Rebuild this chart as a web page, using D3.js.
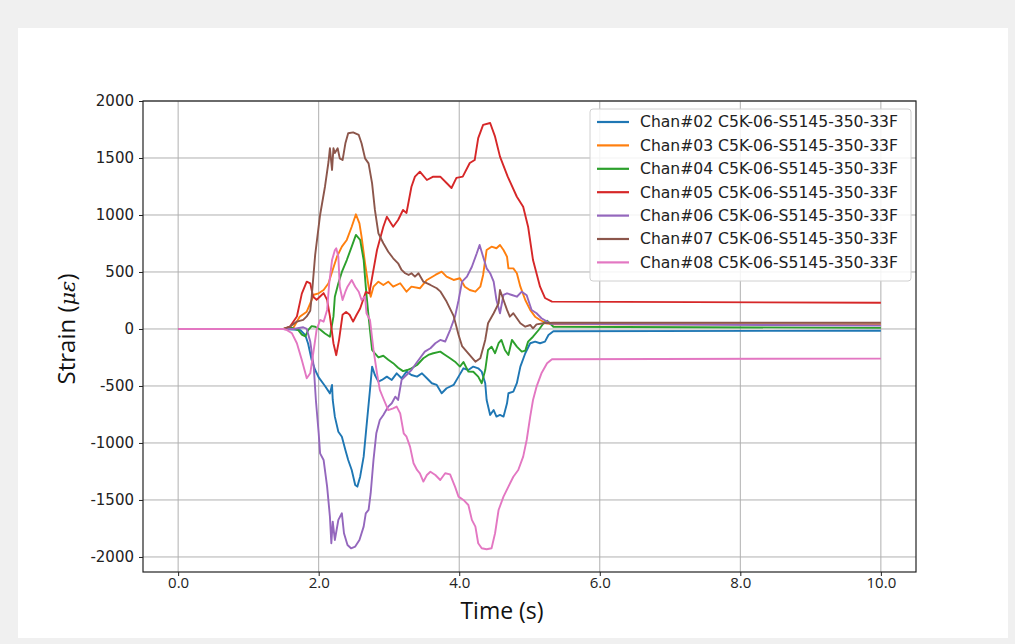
<!DOCTYPE html>
<html>
<head>
<meta charset="utf-8">
<script src="https://cdn.jsdelivr.net/npm/d3@7"></script>
<style>
  body { margin: 0; background: #f0f0f0; }
  .tick text { fill: #222; }
</style>
</head>
<body>
<script>
// strain readings per channel, [time (s), strain (micro-strain)]
var chan02 = [[0,0],[1.5,0],[1.64,-5],[1.74,-10],[1.81,-55],[1.85,-130],[1.90,-272],[1.95,-360],[2.00,-425],[2.09,-500],[2.16,-565],[2.19,-491],[2.20,-623],[2.23,-769],[2.28,-901],[2.33,-945],[2.38,-1061],[2.42,-1149],[2.47,-1237],[2.52,-1368],[2.55,-1383],[2.59,-1296],[2.64,-1120],[2.68,-857],[2.73,-535],[2.76,-330],[2.80,-404],[2.85,-462],[2.90,-447],[2.97,-418],[3.04,-447],[3.11,-389],[3.18,-432],[3.25,-374],[3.32,-404],[3.40,-418],[3.47,-389],[3.54,-432],[3.61,-476],[3.68,-491],[3.75,-564],[3.82,-520],[3.92,-491],[3.99,-418],[4.06,-345],[4.13,-360],[4.20,-330],[4.27,-345],[4.32,-374],[4.37,-476],[4.39,-623],[4.44,-754],[4.49,-711],[4.53,-769],[4.58,-754],[4.63,-769],[4.68,-652],[4.70,-564],[4.77,-550],[4.82,-476],[4.87,-330],[4.94,-213],[5.01,-125],[5.08,-111],[5.15,-125],[5.22,-111],[5.27,-53],[5.34,-20],[10,-15]];
var chan03 = [[0,0],[1.5,0],[1.64,10],[1.73,108],[1.83,152],[1.88,225],[1.93,300],[2.00,313],[2.07,342],[2.14,401],[2.19,500],[2.26,634],[2.33,722],[2.40,781],[2.47,897],[2.53,1006],[2.58,927],[2.61,810],[2.66,576],[2.71,371],[2.74,283],[2.78,371],[2.85,415],[2.92,386],[2.99,415],[3.06,371],[3.16,401],[3.25,327],[3.32,371],[3.44,357],[3.54,430],[3.66,474],[3.75,503],[3.82,459],[3.92,430],[4.01,445],[4.08,371],[4.15,342],[4.23,327],[4.30,371],[4.34,474],[4.39,693],[4.46,722],[4.53,708],[4.58,737],[4.63,693],[4.68,634],[4.70,532],[4.77,532],[4.82,489],[4.87,371],[4.94,254],[5.01,167],[5.08,108],[5.15,79],[5.24,50],[5.33,40],[10,40]];
var chan04 = [[0,0],[1.5,0],[1.59,15],[1.64,5],[1.71,-10],[1.76,-50],[1.81,-65],[1.85,-10],[1.90,25],[1.95,20],[2.02,-5],[2.09,-40],[2.16,-68],[2.21,108],[2.23,283],[2.28,401],[2.33,500],[2.40,605],[2.47,722],[2.53,825],[2.59,781],[2.64,605],[2.67,371],[2.71,108],[2.76,-184],[2.80,-215],[2.85,-250],[2.92,-235],[2.99,-270],[3.06,-300],[3.13,-340],[3.20,-370],[3.26,-360],[3.32,-345],[3.40,-316],[3.49,-257],[3.56,-228],[3.63,-213],[3.73,-199],[3.80,-228],[3.87,-257],[3.94,-287],[4.01,-330],[4.06,-290],[4.13,-374],[4.20,-375],[4.27,-418],[4.32,-476],[4.37,-360],[4.41,-184],[4.46,-155],[4.51,-213],[4.56,-125],[4.60,-96],[4.65,-184],[4.70,-228],[4.75,-96],[4.82,-155],[4.89,-199],[4.94,-190],[4.98,-111],[5.05,-68],[5.13,-9],[5.20,50],[5.25,73],[5.29,50],[5.34,20],[10,10]];
var chan05 = [[0,0],[1.5,0],[1.59,20],[1.69,110],[1.76,310],[1.83,415],[1.88,400],[1.92,285],[1.97,255],[2.02,285],[2.07,315],[2.12,255],[2.16,110],[2.21,-125],[2.25,-230],[2.29,-95],[2.34,125],[2.39,150],[2.44,125],[2.49,65],[2.54,125],[2.59,180],[2.64,270],[2.67,325],[2.72,313],[2.83,693],[2.92,897],[2.97,985],[3.06,897],[3.13,956],[3.20,1044],[3.25,1018],[3.32,1248],[3.37,1336],[3.44,1380],[3.54,1307],[3.63,1336],[3.73,1336],[3.82,1281],[3.89,1237],[3.96,1325],[4.05,1336],[4.15,1456],[4.22,1482],[4.27,1675],[4.34,1790],[4.44,1807],[4.51,1687],[4.58,1512],[4.69,1336],[4.82,1160],[4.91,1073],[4.98,897],[5.05,605],[5.15,371],[5.22,272],[5.32,240],[10,230]];
var chan06 = [[0,0],[1.5,0],[1.64,0],[1.78,15],[1.83,0],[1.88,-110],[1.93,-330],[1.96,-623],[2.00,-915],[2.02,-1091],[2.07,-1149],[2.12,-1383],[2.16,-1647],[2.18,-1880],[2.20,-1690],[2.23,-1851],[2.28,-1675],[2.33,-1617],[2.36,-1792],[2.41,-1895],[2.46,-1924],[2.52,-1909],[2.58,-1851],[2.64,-1734],[2.67,-1617],[2.71,-1588],[2.74,-1441],[2.78,-1149],[2.82,-915],[2.87,-798],[2.92,-754],[2.99,-681],[3.04,-652],[3.09,-594],[3.13,-623],[3.18,-447],[3.25,-404],[3.32,-360],[3.37,-316],[3.44,-257],[3.51,-199],[3.59,-169],[3.66,-125],[3.73,-96],[3.80,-110],[3.87,-9],[3.94,108],[3.99,250],[4.04,415],[4.11,459],[4.18,546],[4.25,664],[4.29,737],[4.34,634],[4.39,532],[4.44,489],[4.49,415],[4.53,254],[4.58,138],[4.63,300],[4.68,313],[4.75,298],[4.82,283],[4.89,327],[4.96,296],[5.03,167],[5.10,138],[5.17,94],[5.25,64],[5.30,45],[10,30]];
var chan07 = [[0,0],[1.5,0],[1.59,20],[1.69,65],[1.78,80],[1.83,110],[1.88,160],[1.90,280],[1.95,650],[2.02,1000],[2.09,1250],[2.14,1467],[2.16,1585],[2.19,1395],[2.21,1585],[2.23,1544],[2.27,1585],[2.30,1497],[2.34,1482],[2.38,1629],[2.42,1717],[2.49,1725],[2.57,1702],[2.61,1629],[2.66,1497],[2.71,1453],[2.76,1278],[2.80,1044],[2.85,839],[2.92,752],[2.99,678],[3.06,620],[3.13,576],[3.18,518],[3.23,489],[3.28,474],[3.32,489],[3.37,459],[3.42,489],[3.49,415],[3.59,386],[3.68,357],[3.73,330],[3.82,240],[3.92,115],[3.99,-50],[4.04,-150],[4.11,-200],[4.23,-287],[4.30,-257],[4.37,-96],[4.41,50],[4.49,138],[4.56,225],[4.58,342],[4.63,254],[4.68,167],[4.72,108],[4.77,138],[4.82,94],[4.87,50],[4.94,20],[5.01,35],[5.05,6],[5.10,40],[5.20,50],[5.34,55],[10,55]];
var chan08 = [[0,0],[1.5,0],[1.55,-10],[1.62,-38],[1.69,-125],[1.76,-272],[1.83,-432],[1.88,-389],[1.93,-184],[1.97,-9],[2.02,79],[2.07,64],[2.12,167],[2.15,401],[2.19,605],[2.23,690],[2.25,708],[2.28,634],[2.30,371],[2.34,254],[2.38,327],[2.41,371],[2.47,430],[2.52,371],[2.57,327],[2.61,254],[2.66,283],[2.68,138],[2.73,79],[2.78,-184],[2.83,-389],[2.87,-535],[2.92,-610],[2.99,-711],[3.06,-696],[3.11,-681],[3.16,-740],[3.21,-915],[3.25,-945],[3.30,-1032],[3.35,-1178],[3.40,-1237],[3.44,-1266],[3.49,-1339],[3.54,-1281],[3.59,-1252],[3.66,-1281],[3.73,-1325],[3.80,-1266],[3.87,-1275],[3.94,-1383],[3.99,-1471],[4.06,-1500],[4.13,-1544],[4.18,-1675],[4.23,-1734],[4.27,-1880],[4.32,-1924],[4.39,-1932],[4.46,-1924],[4.51,-1792],[4.56,-1588],[4.63,-1471],[4.70,-1383],[4.77,-1296],[4.84,-1237],[4.91,-1120],[4.96,-974],[5.01,-769],[5.05,-623],[5.10,-506],[5.17,-389],[5.25,-301],[5.32,-265],[10,-260]];

var channelNames = ["Chan#02 C5K-06-S5145-350-33F", "Chan#03 C5K-06-S5145-350-33F", "Chan#04 C5K-06-S5145-350-33F",
  "Chan#05 C5K-06-S5145-350-33F", "Chan#06 C5K-06-S5145-350-33F", "Chan#07 C5K-06-S5145-350-33F", "Chan#08 C5K-06-S5145-350-33F"];
var channelColors = ["#1f77b4", "#ff7f0e", "#2ca02c", "#d62728", "#9467bd", "#8c564b", "#e377c2"];
var channels = [chan02, chan03, chan04, chan05, chan06, chan07, chan08];

var xTicks = [0, 2, 4, 6, 8, 10];
var yTicks = [-2000, -1500, -1000, -500, 0, 500, 1000, 1500, 2000];

var svgWidth = 1015;
var svgHeight = 644;

var margin = { top: 101, right: 99, bottom: 72, left: 143 };
var width = svgWidth - margin.left - margin.right;
var height = svgHeight - margin.top - margin.bottom;

var svg = d3.select("body")
  .append("svg")
  .attr("width", svgWidth)
  .attr("height", svgHeight)
  .style("display", "block");

// grey page with white card behind the figure
svg.append("rect")
  .attr("width", svgWidth).attr("height", svgHeight)
  .attr("fill", "#f0f0f0");
svg.append("rect")
  .attr("x", 18).attr("y", 28)
  .attr("width", 990).attr("height", 610)
  .attr("fill", "#ffffff");

var chartGroup = svg.append("g")
  .attr("transform", `translate(${margin.left}, ${margin.top})`);

// scales
var xScale = d3.scaleLinear()
  .domain([-0.5, 10.5])
  .range([0, width]);

var yScale = d3.scaleLinear()
  .domain([-2132, 2000])
  .range([height, 0]);

// grid
chartGroup.append("g")
  .selectAll("line")
  .data(xTicks)
  .enter()
  .append("line")
  .attr("x1", d => xScale(d)).attr("x2", d => xScale(d))
  .attr("y1", 0).attr("y2", height)
  .attr("stroke", "#b0b0b0").attr("stroke-width", 1);

chartGroup.append("g")
  .selectAll("line")
  .data(yTicks)
  .enter()
  .append("line")
  .attr("x1", 0).attr("x2", width)
  .attr("y1", d => yScale(d)).attr("y2", d => yScale(d))
  .attr("stroke", "#b0b0b0").attr("stroke-width", 1);

// axes
var bottomAxis = d3.axisBottom(xScale)
  .tickValues(xTicks)
  .tickFormat(d3.format(".1f"))
  .tickSize(4)
  .tickSizeOuter(0);
var leftAxis = d3.axisLeft(yScale)
  .tickValues(yTicks)
  .tickFormat(d => String(d))
  .tickSize(4)
  .tickSizeOuter(0);

var xAxisG = chartGroup.append("g")
  .attr("transform", `translate(0, ${height})`)
  .call(bottomAxis);
xAxisG.selectAll("text")
  .style("font-family", "'Open Sans', sans-serif")
  .style("font-size", "15px")
  .attr("dy", "0.6em");

var yAxisG = chartGroup.append("g")
  .call(leftAxis);
yAxisG.selectAll("text")
  .style("font-family", "'DejaVu Sans', sans-serif")
  .style("font-size", "15px")
  .attr("x", -9);

chartGroup.selectAll(".domain").remove();
chartGroup.selectAll(".tick line").attr("stroke", "#222");

// lines
var line = d3.line()
  .x(d => xScale(d[0]))
  .y(d => yScale(d[1]));

chartGroup.append("g")
  .selectAll("path")
  .data(channels)
  .enter()
  .append("path")
  .attr("d", d => line(d))
  .attr("fill", "none")
  .attr("stroke", (d, i) => channelColors[i])
  .attr("stroke-width", 1.9)
  .attr("stroke-linejoin", "round");

// frame
chartGroup.append("rect")
  .attr("width", width).attr("height", height)
  .attr("fill", "none")
  .attr("stroke", "#222").attr("stroke-width", 1.2);

// legend
var legend = svg.append("g")
  .attr("transform", "translate(590, 109)");

legend.append("rect")
  .attr("width", 321).attr("height", 172)
  .attr("rx", 3)
  .attr("fill", "#ffffff").attr("fill-opacity", 0.85)
  .attr("stroke", "#d0d0d0");

var legendRows = legend.selectAll(".row")
  .data(channelNames)
  .enter()
  .append("g")
  .attr("transform", (d, i) => `translate(0, ${13 + i * 23.4})`);

legendRows.append("line")
  .attr("x1", 7).attr("x2", 39)
  .attr("stroke", (d, i) => channelColors[i])
  .attr("stroke-width", 2.2);

legendRows.append("text")
  .attr("x", 50)
  .attr("dy", "0.35em")
  .style("font-family", "'DejaVu Sans', sans-serif")
  .style("font-size", "15.6px")
  .attr("fill", "#222")
  .text(d => d);

// axis labels
svg.append("text")
  .attr("x", 502).attr("y", 619)
  .attr("text-anchor", "middle")
  .style("font-family", "'Open Sans', sans-serif")
  .style("font-size", "23px")
  .attr("fill", "#111")
  .text("Time (s)");

var yLabel = svg.append("text")
  .attr("transform", "translate(75, 329) rotate(-90)")
  .attr("text-anchor", "middle")
  .style("font-family", "'Open Sans', sans-serif")
  .style("font-size", "24px")
  .attr("fill", "#111");
yLabel.append("tspan").text("Strain (");
yLabel.append("tspan").style("font-style", "italic").style("font-family", "'DejaVu Serif', serif").style("font-size", "21px").text("με");
yLabel.append("tspan").text(")");
</script>
</body>
</html>
